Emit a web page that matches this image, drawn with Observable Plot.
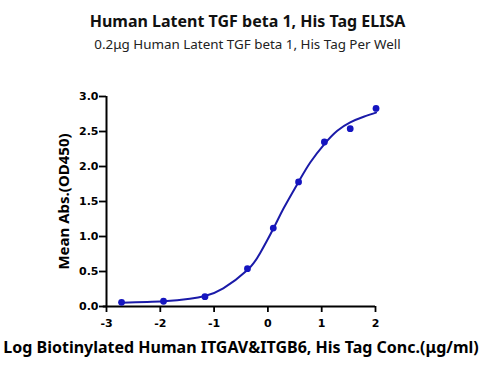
<!DOCTYPE html>
<html>
<head>
<meta charset="utf-8">
<script src="https://cdn.jsdelivr.net/npm/d3@7"></script>
<script src="https://cdn.jsdelivr.net/npm/@observablehq/plot@0.6"></script>
<style>
  html, body { margin: 0; padding: 0; background: #fff; }
  #wrap { width: 495px; height: 371px; position: relative; font-family: "Noto Sans", sans-serif; }
  #title { position: absolute; top: 10px; left: 0; width: 495px; text-align: center; font-weight: bold; font-size: 16px; color: #111; }
  #subtitle { position: absolute; top: 35px; left: 0; width: 495px; text-align: center; font-size: 13.4px; color: #222; }
  #chart { position: absolute; top: 60px; left: 0; }
</style>
</head>
<body>
<div id="wrap">
  <div id="title">Human Latent TGF beta 1, His Tag ELISA</div>
  <div id="subtitle">0.2μg Human Latent TGF beta 1, His Tag Per Well</div>
  <div id="chart"></div>
</div>
<script>
// Measured points (log concentration, OD450)
const logConc = [-2.72, -1.94, -1.17, -0.38, 0.10, 0.57, 1.05, 1.53, 2.01];
const od450   = [0.06, 0.075, 0.14, 0.54, 1.12, 1.78, 2.35, 2.54, 2.83];

// Fitted curve
const curveX = [-2.72, -1.94, -1.45, -1.17, -0.83, -0.38, -0.146, 0.10, 0.29, 0.57, 0.79, 1.05, 1.29, 1.53, 1.78, 2.01];
const curveY = [0.055, 0.075, 0.11, 0.15, 0.26, 0.52, 0.76, 1.11, 1.40, 1.78, 2.06, 2.32, 2.51, 2.63, 2.71, 2.77];

const xTicks = [-3, -2, -1, 0, 1, 2];
const yTicks = [0, 0.5, 1.0, 1.5, 2.0, 2.5, 3.0];

const xLabel = "Log Biotinylated Human ITGAV&ITGB6, His Tag Conc.(μg/ml)";
const yLabel = "Mean Abs.(OD450)";

const points = logConc.map((x, i) => ({x, y: od450[i]}));
const curve = curveX.map((x, i) => ({x, y: curveY[i]}));

const blue = "#1a1aa8";
const tickFont = "DejaVu Sans, sans-serif";

const plot = Plot.plot({
  width: 495,
  height: 311,
  marginTop: 36,
  marginLeft: 106,
  marginRight: 120,
  marginBottom: 65,
  style: { fontFamily: "Noto Sans, sans-serif", background: "#fff", overflow: "visible" },
  x: { domain: [-3, 2] },
  y: { domain: [0, 3] },
  marks: [
    Plot.axisX(xTicks, { tickSize: 6, tickPadding: 7, fontSize: 11, fontWeight: "bold", fontFamily: tickFont, stroke: "#000", strokeWidth: 1.8, fill: "#000", tickFormat: d => String(d), label: null }),
    Plot.axisY(yTicks, { tickSize: 7, tickPadding: 1, fontSize: 11, fontWeight: "bold", fontFamily: tickFont, stroke: "#000", strokeWidth: 1.8, fill: "#000", tickFormat: d3.format(".1f"), label: null }),
    Plot.ruleY([0], { x1: -3.06, x2: 2, stroke: "#000", strokeWidth: 2 }),
    Plot.ruleX([-3], { y1: 0, y2: 3, stroke: "#000", strokeWidth: 2 }),
    Plot.line(curve, { x: "x", y: "y", stroke: blue, strokeWidth: 2, curve: "natural" }),
    Plot.dot(points, { x: "x", y: "y", r: 3.4, fill: "#1515c0", stroke: "none" }),
    Plot.text([xLabel], { frameAnchor: "bottom", dy: 46, fontSize: 16, fontWeight: "bold", fill: "#000", text: d => d }),
    Plot.text([yLabel], { frameAnchor: "left", dx: -42, rotate: -90, textAnchor: "middle", fontSize: 15, fontWeight: "bold", fill: "#000", text: d => d })
  ]
});
document.getElementById("chart").appendChild(plot);
</script>
</body>
</html>
